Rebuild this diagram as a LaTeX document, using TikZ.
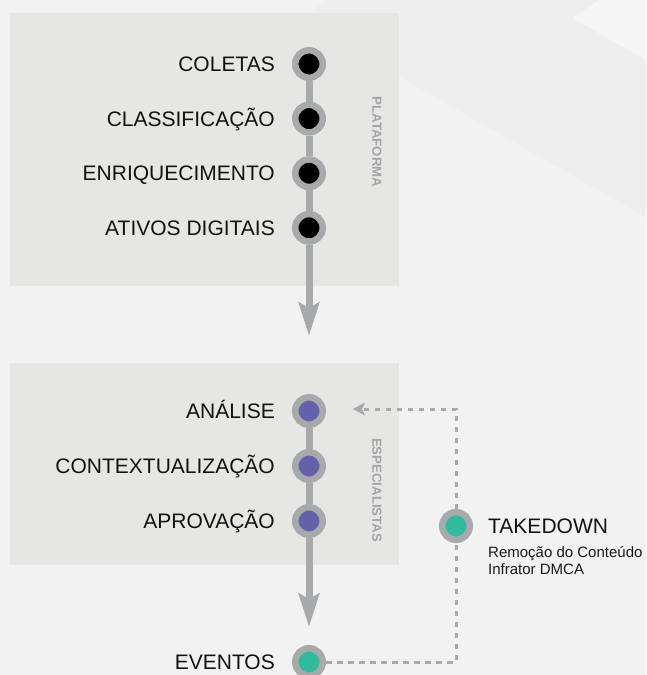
\documentclass[tikz,border=0pt]{standalone}
\usepackage{fontspec}
\setmainfont{Liberation Sans}
\usetikzlibrary{arrows.meta,positioning}

\definecolor{fundo}{HTML}{F1F2F1}
\definecolor{faixa}{HTML}{EDEEED}
\definecolor{claro}{HTML}{F4F5F4}
\definecolor{painel}{HTML}{E6E7E5}
\definecolor{anel}{HTML}{A7A9AA}
\definecolor{roxo}{HTML}{6560AA}
\definecolor{verde}{HTML}{2EBB9E}
\definecolor{cinzatexto}{HTML}{A3A5A6}

\tikzset{
	etapa/.style={circle, draw=anel, line width=6.5pt, minimum size=27.5pt, inner sep=0pt},
	rotulo/.style={font=\fontsize{21}{25}\selectfont, text=black!93, inner sep=0pt, text height=15pt, text depth=0pt},
	descricao/.style={font=\fontsize{15}{17}\selectfont, text=black!90, inner sep=0pt, align=left},
	lateral/.style={font=\fontsize{13.2}{15}\selectfont\bfseries, text=cinzatexto, rotate=-90, inner sep=0pt},
	fluxo/.style={draw=anel, line width=7pt},
	retorno/.style={draw=anel, line width=3pt, dash pattern=on 5.5pt off 5.5pt},
}

\begin{document}
\begin{tikzpicture}[x=1pt,y=-1pt]

	\fill[fundo] (0,0) rectangle (646,675);
	\useasboundingbox (0,0) rectangle (646,675);
	\fill[faixa] (327,0) -- (600,0) -- (572,18) -- (646,60) -- (646,217) -- (400,77) -- (300,20) -- cycle;
	\fill[claro] (600,0) -- (646,0) -- (646,60) -- (572,18) -- cycle;

	\fill[painel] (10,13) rectangle (399,286);
	\fill[painel] (10,363) rectangle (399,565);

	\node[etapa, fill=black] (coletas) at (309,64) {};
	\node[etapa, fill=black, below=20.6pt of coletas] (classif) {};
	\node[etapa, fill=black, below=20.6pt of classif] (enriq) {};
	\node[etapa, fill=black, below=20.6pt of enriq] (ativos) {};
	\coordinate (seta1) at (309,336);

	\node[etapa, fill=roxo] (analise) at (309,411) {};
	\node[etapa, fill=roxo, below=21pt of analise] (contexto) {};
	\node[etapa, fill=roxo, below=21pt of contexto] (aprovacao) {};
	\coordinate (seta2) at (309,627);
	\node[etapa, fill=verde] (eventos) at (309,662) {};

	\node[etapa, fill=verde] (takedown) at (456,526) {};
	\coordinate (volta) at (353,409);

	\draw[fluxo] (coletas) -- (classif);
	\draw[fluxo] (classif) -- (enriq);
	\draw[fluxo] (enriq) -- (ativos);
	\draw[fluxo, -{Stealth[length=33pt, width=20pt, inset=5pt]}] (ativos) -- (seta1);

	\draw[fluxo] (analise) -- (contexto);
	\draw[fluxo] (contexto) -- (aprovacao);
	\draw[fluxo, -{Stealth[length=33pt, width=20pt, inset=5pt]}] (aprovacao) -- (seta2);

	\draw[retorno] (eventos) -| (takedown);
	\draw[retorno, -{Stealth[length=12pt, width=13pt, inset=3pt]}] (takedown) |- (volta);

	\node[rotulo, left=17pt of coletas] (tcoletas) {COLETAS};
	\node[rotulo, left=17pt of classif] (tclassif) {CLASSIFICAÇÃO};
	\node[rotulo, left=17pt of enriq] (tenriq) {ENRIQUECIMENTO};
	\node[rotulo, left=17pt of ativos] (tativos) {ATIVOS DIGITAIS};

	\node[rotulo, left=17pt of analise] (tanalise) {ANÁLISE};
	\node[rotulo, left=17pt of contexto] (tcontexto) {CONTEXTUALIZAÇÃO};
	\node[rotulo, left=17pt of aprovacao] (taprovacao) {APROVAÇÃO};
	\node[rotulo, left=17pt of eventos] (teventos) {EVENTOS};

	\node[lateral] (plataforma) at (377,142) {PLATAFORMA};
	\node[lateral] (especialistas) at (377,490) {ESPECIALISTAS};

	\node[rotulo, right=15pt of takedown] (titulo) {TAKEDOWN};
	\node[descricao, below right=13pt and 0pt of titulo.south west] (detalhe) {Remoção do Conteúdo\\Infrator DMCA};

\end{tikzpicture}
\end{document}
